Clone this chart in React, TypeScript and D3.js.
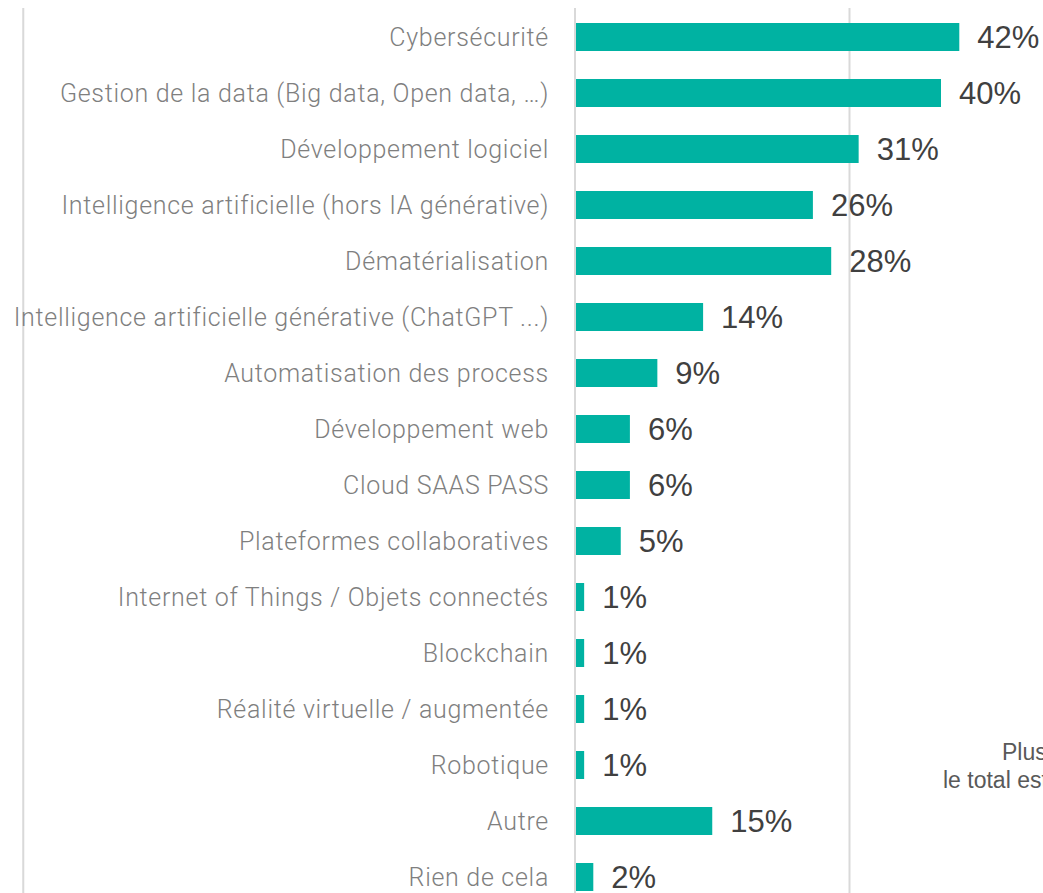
import React from 'react'
import * as d3 from 'd3'

// data
const categories = [
  'Cybersécurité',
  'Gestion de la data (Big data, Open data, …)',
  'Développement logiciel',
  'Intelligence artificielle (hors IA générative)',
  'Dématérialisation',
  'Intelligence artificielle générative (ChatGPT ...)',
  'Automatisation des process',
  'Développement web',
  'Cloud SAAS PASS',
  'Plateformes collaboratives',
  'Internet of Things / Objets connectés',
  'Blockchain',
  'Réalité virtuelle / augmentée',
  'Robotique',
  'Autre',
  'Rien de cela',
]
const values = [42, 40, 31, 26, 28, 14, 9, 6, 6, 5, 1, 1, 1, 1, 15, 2]
const gridTicks = [-60.3, 0, 30]
const noteLines = ['Plusieurs réponses possibles,', 'le total est supérieur à 100%']

const width = 1043
const height = 893
const barColor = '#00b2a2'

export default function App() {
  const x = d3.scaleLinear().domain([0, 30]).range([575, 849.5])
  const y = d3
    .scaleBand<string>()
    .domain(categories)
    .range([9, 905])
    .paddingInner(0.5)
    .paddingOuter(0.25)

  const rows = categories.map((c, i) => ({ name: c, value: values[i] }))

  return (
    <svg
      width={width}
      height={height}
      style={{ position: 'absolute', left: 0, top: 0, background: '#fff' }}
    >
      {/* gridlines */}
      {gridTicks.map(t => (
        <line
          key={t}
          x1={x(t)}
          x2={x(t)}
          y1={8}
          y2={height}
          stroke="#d9d9d9"
          strokeWidth={2}
        />
      ))}

      {rows.map(d => {
        const cy = (y(d.name) ?? 0) + y.bandwidth() / 2
        return (
          <g key={d.name}>
            <rect
              x={x(0) + 1}
              y={y(d.name)}
              width={x(d.value) - x(0) - 1}
              height={y.bandwidth()}
              fill={barColor}
            />
            <text
              x={x(0) - 26}
              y={cy}
              dy="0.36em"
              textAnchor="end"
              fontFamily="Roboto"
              fontWeight={300}
              fontSize={25}
              letterSpacing={0.7}
              fill="#7f7f7f"
            >
              {d.name}
            </text>
            <text
              x={x(d.value) + 18}
              y={cy}
              dy="0.355em"
              fontFamily="Liberation Sans, Arial"
              fontSize={31}
              fill="#404040"
            >
              {d.value}%
            </text>
          </g>
        )
      })}

      {/* note, cut by the right edge */}
      <text fontFamily="Liberation Sans, Arial" fontSize={23} fill="#595959">
        <tspan x={1002} y={760}>{noteLines[0]}</tspan>
        <tspan x={943} y={788}>{noteLines[1]}</tspan>
      </text>
    </svg>
  )
}
